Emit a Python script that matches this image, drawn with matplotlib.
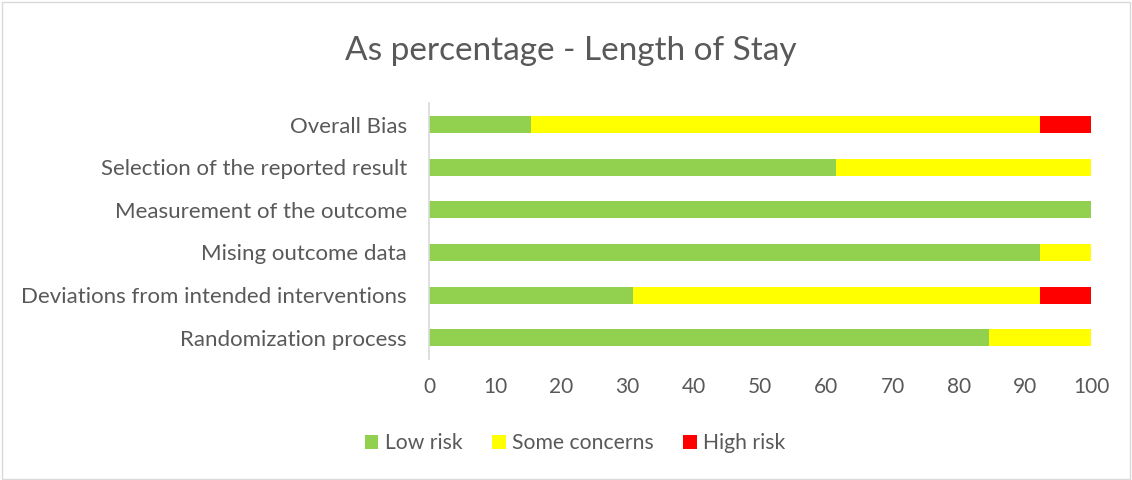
import matplotlib
matplotlib.use('Agg')
import matplotlib.pyplot as plt
from matplotlib.patches import Rectangle

# Risk-of-bias domains, bottom to top as drawn
domains = [
    'Randomization process',
    'Deviations from intended interventions',
    'Mising outcome data',
    'Measurement of the outcome',
    'Selection of the reported result',
    'Overall Bias',
]
low_risk = [84.6, 30.8, 92.3, 100.0, 61.5, 15.4]
some_concerns = [15.4, 61.5, 7.7, 0.0, 38.5, 76.9]
high_risk = [0.0, 7.7, 0.0, 0.0, 0.0, 7.7]
xticks = [0, 10, 20, 30, 40, 50, 60, 70, 80, 90, 100]

GREEN = '#92D050'
YELLOW = '#FFFF00'
RED = '#FF0000'
TEXT = '#595959'
FONT = 'Lato'

fig = plt.figure(figsize=(11.32, 4.8), dpi=100)
ax = fig.add_axes([0.379, 0.252, 0.585, 0.533])

y = range(len(domains))
h = 0.4
left2 = [a for a in low_risk]
left3 = [a + b for a, b in zip(low_risk, some_concerns)]
ax.barh(y, low_risk, height=h, color=GREEN, label='Low risk')
ax.barh(y, some_concerns, left=left2, height=h, color=YELLOW, label='Some concerns')
ax.barh(y, high_risk, left=left3, height=h, color=RED, label='High risk')

ax.set_xlim(0, 100)
ax.set_ylim(-0.5, len(domains) - 0.5)
ax.set_xticks(xticks)
ax.set_yticks(list(y))
ax.set_yticklabels(domains)
for s in ['top', 'right', 'bottom']:
    ax.spines[s].set_visible(False)
ax.spines['left'].set_color('#D9D9D9')
ax.spines['left'].set_linewidth(1.2)
ax.tick_params(axis='both', length=0, labelcolor=TEXT)
ax.tick_params(axis='x', pad=13, labelsize=15)
ax.tick_params(axis='y', pad=16, labelsize=16)
for lbl in ax.get_xticklabels() + ax.get_yticklabels():
    lbl.set_fontfamily(FONT)

fig.text(0.504, 0.893, 'As percentage - Length of Stay', ha='center', va='center',
         fontsize=24, color=TEXT, fontfamily=FONT)

leg = fig.legend(loc='center', bbox_to_anchor=(0.508, 0.077), ncol=3, frameon=False,
                 handlelength=0.65, handleheight=0.65, handletextpad=0.3, columnspacing=1.4,
                 prop={'family': FONT, 'size': 15.2})
for t in leg.get_texts():
    t.set_color(TEXT)

# thin frame around the whole chart area
fig.patches.append(Rectangle((0.002, 0.002), 0.996, 0.994, transform=fig.transFigure,
                             fill=False, edgecolor='#D9D9D9', linewidth=1.0))

fig.savefig('out.png', dpi=100, facecolor='white')
